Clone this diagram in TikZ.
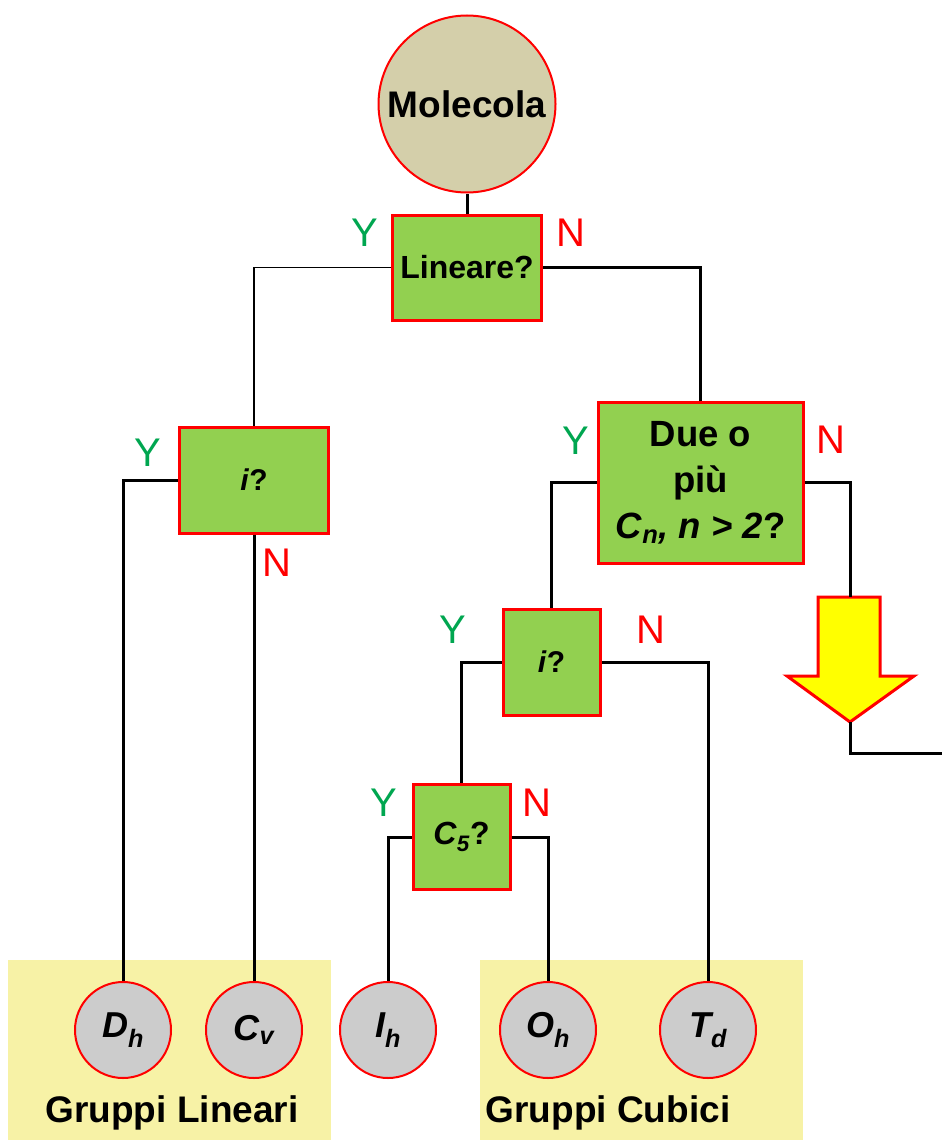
\documentclass[tikz,border=0pt]{standalone}
\usepackage{fontspec}
\setmainfont{Liberation Sans}
\definecolor{boxgreen}{RGB}{146,208,80}
\definecolor{moltan}{RGB}{212,207,170}
\definecolor{ygreen}{RGB}{0,166,80}
\definecolor{bgyellow}{RGB}{247,242,166}
\definecolor{circgray}{RGB}{204,204,204}
\definecolor{arrowyellow}{RGB}{255,255,0}
\newcommand{\fs}[1]{\fontsize{#1}{#1}\selectfont}
\tikzset{
  qbox/.style={draw=red, line width=3pt, fill=boxgreen, inner sep=0pt, align=center, font=\bfseries\fs{32}},
  grpcirc/.style={circle, draw=red, line width=2pt, fill=circgray, minimum size=96pt, inner sep=0pt, font=\bfseries\itshape\fs{36}},
  ylab/.style={text=ygreen, font=\fs{40}, inner sep=0pt},
  nlab/.style={text=red, font=\fs{40}, inner sep=0pt},
  conn/.style={line width=3pt, draw=black},
  thinconn/.style={line width=1.5pt, draw=black},
  grplab/.style={font=\bfseries\fs{37}, inner sep=0pt},
}
\begin{document}
\begin{tikzpicture}[x=1pt,y=-1pt]
\useasboundingbox (0,0) rectangle (942,1140);
% backgrounds
\fill[bgyellow] (8,960) rectangle (331,1140);
\fill[bgyellow] (480,960) rectangle (803,1140);

% nodes
\node[circle, draw=red, line width=2pt, fill=moltan, minimum size=177pt, inner sep=0pt, font=\bfseries\fs{37}] (mol) at (467,104) {Molecola};
\node[qbox, minimum width=149pt, minimum height=105pt] (lin) at (467,267.5) {Lineare?};
\node[qbox, minimum width=149pt, minimum height=106pt, font=\bfseries\fs{30}] (i1) at (254,480) {\textit{i}?};
\node[qbox, minimum width=205pt, minimum height=161pt, font=\bfseries\fontsize{36.5}{46}\selectfont] (due) at (700.5,482.5) {Due o\\più\\\textit{C}\textsubscript{\textit{n}}\textit{, n > 2}?};
\node[qbox, minimum width=97pt, minimum height=106pt, font=\bfseries\fs{30}] (i2) at (551.5,662) {\textit{i}?};
\node[qbox, minimum width=97pt, minimum height=105pt, font=\bfseries\fs{32}] (c5) at (461.5,837) {\textit{C}\textsubscript{\textit{5}}?};

\node[grpcirc] (dh) at (123,1030) {D\textsubscript{h}};
\node[grpcirc] (cv) at (254,1030) {C\textsubscript{v}};
\node[grpcirc] (ih) at (388,1030) {I\textsubscript{h}};
\node[grpcirc] (oh) at (548,1030) {O\textsubscript{h}};
\node[grpcirc] (td) at (708,1030) {T\textsubscript{d}};

\node[grplab] (gl) at (172,1113) {Gruppi Lineari};
\node[grplab] (gc) at (608,1113) {Gruppi Cubici};

% Y / N labels
\node[ylab] (y1) at (365,233) {Y};
\node[nlab] (n1) at (571,233) {N};
\node[ylab] (y2) at (148,453) {Y};
\node[nlab] (n2) at (277,563) {N};
\node[ylab] (y3) at (576,441) {Y};
\node[nlab] (n3) at (831,440) {N};
\node[ylab] (y4) at (453,630) {Y};
\node[nlab] (n4) at (651,630) {N};
\node[ylab] (y5) at (384,803) {Y};
\node[nlab] (n5) at (537,803) {N};

% big arrow
\coordinate (arrtop) at (850,597);
\coordinate (arrtip) at (850,722);
\coordinate (arrend) at (942,753);
\filldraw[draw=red, line width=3pt, fill=arrowyellow, line join=miter]
  (818,597) -- (880,597) -- (880,676) -- (914,676) -- (arrtip) -- (787,676) -- (818,676) -- cycle;

% connectors
\draw[conn] (mol.south) -- (lin.north);
\draw[thinconn] (lin.west) -| (i1.north);
\draw[conn] (lin.east) -| (due.north);
\draw[conn] (i1.west) -| (dh.north);
\draw[conn] (i1.south) -- (cv.north);
\draw[conn] (due.west) -| (i2.north);
\draw[conn] (due.east) -| (arrtop);
\draw[conn] (arrtip) |- (arrend);
\draw[conn] (i2.west) -| (c5.north);
\draw[conn] (i2.east) -| (td.north);
\draw[conn] (c5.west) -| (ih.north);
\draw[conn] (c5.east) -| (oh.north);
\end{tikzpicture}
\end{document}
